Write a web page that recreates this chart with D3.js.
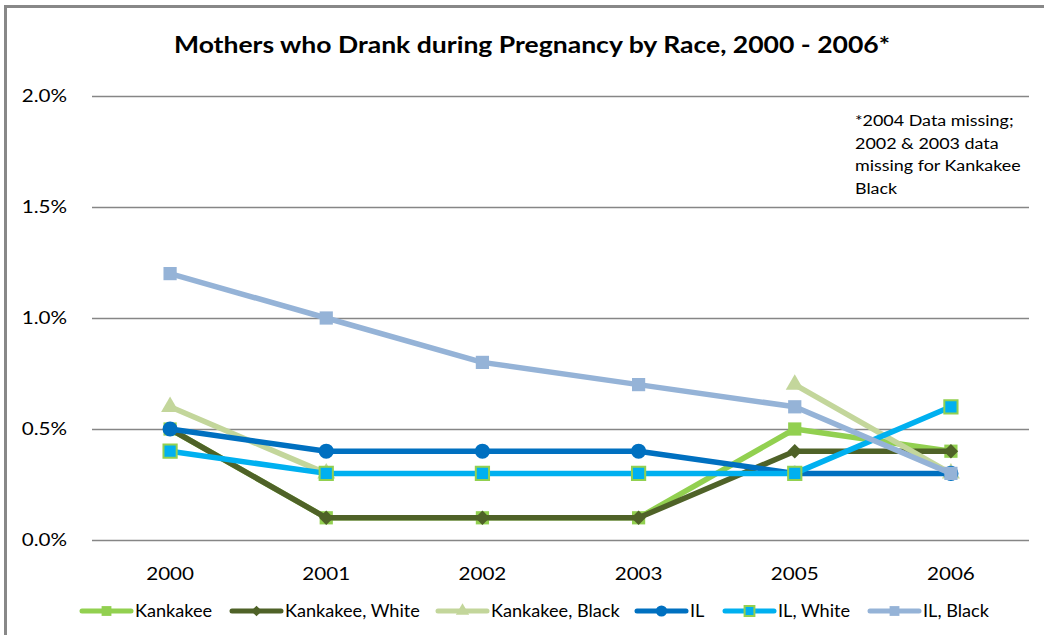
<!DOCTYPE html>
<html><head><meta charset="utf-8">
<script src="https://cdn.jsdelivr.net/npm/d3@7"></script>
<style>body{margin:0;background:#fff}svg{display:block;font-family:Lato,"Open Sans",sans-serif}</style>
</head><body><svg id="c" width="1044" height="635"></svg>
<script>
const years = ["2000","2001","2002","2003","2005","2006"];
const seriesNames = ["Kankakee","Kankakee, White","Kankakee, Black","IL","IL, White","IL, Black"];
const kankakee      = [0.5,0.1,0.1,0.1,0.5,0.4];
const kankakeeWhite = [0.5,0.1,0.1,0.1,0.4,0.4];
const kankakeeBlack = [0.6,0.3,null,null,0.7,0.3];
const il            = [0.5,0.4,0.4,0.4,0.3,0.3];
const ilWhite       = [0.4,0.3,0.3,0.3,0.3,0.6];
const ilBlack       = [1.2,1.0,0.8,0.7,0.6,0.3];
const yTicks = [0,0.5,1.0,1.5,2.0];
const title = "Mothers who Drank during Pregnancy by Race, 2000 - 2006*";
const noteLines = ["*2004 Data missing;","2002 & 2003 data","missing for Kankakee","Black"];

const values = [kankakee,kankakeeWhite,kankakeeBlack,il,ilWhite,ilBlack];
const colors = ["#92D050","#4F6228","#C3D69B","#0070C0","#00B0F0","#95B3D7"];
const markers = ["square","diamond","triangle","circle","square","square"];
const strokes = [null,null,null,null,"#92D050",null];

const svg = d3.select("#c");
svg.append("rect").attr("x",5.5).attr("y",6.5).attr("width",1060).attr("height",660)
  .attr("fill","none").attr("stroke","#888").attr("stroke-width",3);

const L=92,R=1029,T=96,B=540;
const x = d3.scaleBand().domain(years).range([L,R]);
const y = d3.scaleLinear().domain([0,2]).range([B,T]);

function stext(g,tx,ty,str,size,sx,anchor,weight){
  return g.append("text").attr("transform",`translate(${tx},${ty}) scale(${sx},1)`)
    .attr("text-anchor",anchor||"start").attr("font-size",size)
    .attr("font-weight",weight||"normal").attr("fill","#000").text(str);
}

stext(svg,532,53,title,22.5,1.18,"middle","bold");

const gy = svg.append("g").attr("transform",`translate(${L},0)`)
  .call(d3.axisLeft(y).tickValues(yTicks).tickSize(-(R-L)).tickPadding(25).tickFormat(d=>d.toFixed(1)+"%"));
gy.select(".domain").remove();
gy.selectAll("line").attr("stroke","#868686").attr("stroke-width",1.3);
gy.selectAll("text").attr("x",0).attr("dy","0.36em").attr("transform","translate(-25,0) scale(1.25,1)")
  .attr("font-size",16.5).attr("fill","#000").attr("font-family","Lato,'Open Sans',sans-serif");

const gx = svg.append("g").attr("transform",`translate(0,${B})`)
  .call(d3.axisBottom(x).tickSize(0).tickPadding(28));
gx.select(".domain").remove();
gx.selectAll("text").attr("transform","scale(1.25,1)")
  .attr("font-size",16.5).attr("fill","#000").attr("font-family","Lato,'Open Sans',sans-serif");

const cx = d => x(d)+x.bandwidth()/2;
const symbols = {square:d3.symbolSquare,triangle:d3.symbolTriangle,circle:d3.symbolCircle};
const sizes = {square:175,triangle:140,circle:180,diamond:105};
function marker(g,type,px,py,color,stroke,scale=1){
  let p;
  if(type==="diamond"){
    p = g.append("path").attr("d",d3.symbol().type(d3.symbolSquare).size(sizes.diamond*scale)())
      .attr("transform",`translate(${px},${py}) rotate(45)`);
  } else {
    p = g.append("path").attr("d",d3.symbol().type(symbols[type]).size(sizes[type]*scale)())
      .attr("transform",`translate(${px},${py})`);
  }
  p.attr("fill",color).attr("stroke",stroke||"none").attr("stroke-width",stroke?2:0);
}

values.forEach((vals,i)=>{
  const g = svg.append("g");
  const line = d3.line().defined(d=>d[1]!=null).x(d=>cx(d[0])).y(d=>y(d[1]));
  g.append("path").datum(years.map((yr,j)=>[yr,vals[j]])).attr("d",line)
   .attr("fill","none").attr("stroke",colors[i]).attr("stroke-width",5.5).attr("stroke-linejoin","round");
  years.forEach((yr,j)=>{ if(vals[j]!=null) marker(g,markers[i],cx(yr),y(vals[j]),colors[i],strokes[i]); });
});

const legX = [82,232,438,637,725,870];
const lg = svg.append("g");
seriesNames.forEach((n,i)=>{
  const lx=legX[i], ly=611;
  lg.append("line").attr("x1",lx).attr("x2",lx+49).attr("y1",ly).attr("y2",ly)
    .attr("stroke",colors[i]).attr("stroke-width",5).attr("stroke-linecap","round");
  marker(lg,markers[i],lx+24.5,ly,colors[i],strokes[i],0.55);
  stext(lg,lx+53,ly+6,n,16.5,1.1);
});

noteLines.forEach((t,i)=>stext(svg,855,126+i*22.7,t,16,1.12));
</script></body></html>
